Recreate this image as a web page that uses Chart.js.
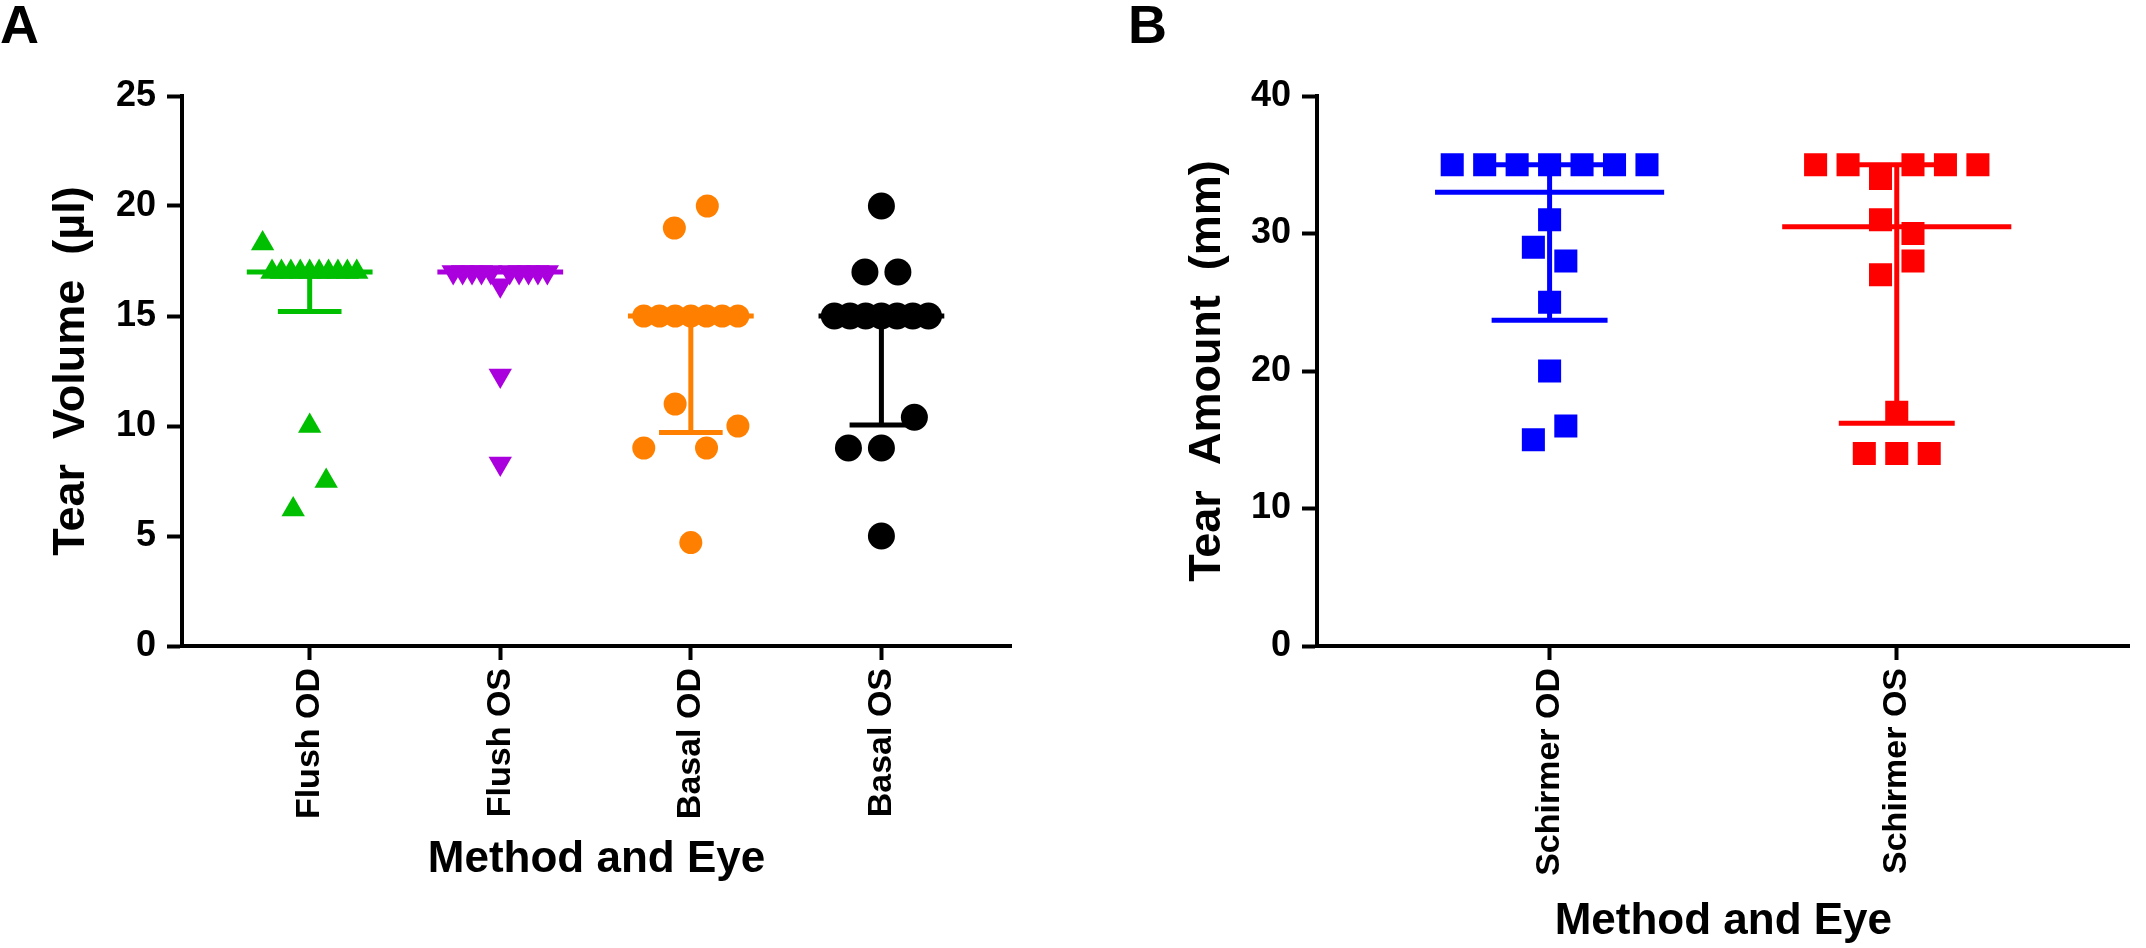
<!DOCTYPE html>
<html>
<head>
<meta charset="utf-8">
<script src="https://cdn.jsdelivr.net/npm/chart.js@4"></script>
<style>
  body { margin: 0; background: #fff; }
  canvas { position: absolute; top: 0; }
  #chartA { left: 0; }
  #chartB { left: 1128px; }
</style>
</head>
<body>
<canvas id="chartA" width="1073" height="948"></canvas>
<canvas id="chartB" width="1018" height="948"></canvas>
<script>
// ---- panel A: tear volume (µl)
var catsA = ['Flush OD', 'Flush OS', 'Basal OD', 'Basal OS'];
var flushOD = [18.3, 17, 17, 17, 17, 17, 17, 17, 17, 17, 17, 10, 6.2, 7.5];
var flushOS = [17, 17, 17, 17, 17, 16.4, 17, 17, 17, 17, 17, 12.3, 8.3];
var basalOD = [19, 20, 15, 15, 15, 15, 15, 15, 15, 9, 11, 9, 10, 4.7];
var basalOS = [20, 17, 17, 15, 15, 15, 15, 15, 15, 15, 9, 9, 10.4, 5];
var centreA = [17, 17, 15, 15];
var lowerA = [15.2, 17, 9.7, 10.05];
var upperA = [17, 17, 15, 15];
var ticksA = [0, 5, 10, 15, 20, 25];

// ---- panel B: tear amount (mm)
var catsB = ['Schirmer OD', 'Schirmer OS'];
var schirmerOD = [35, 35, 35, 35, 35, 35, 35, 31, 29, 28, 25, 20, 15, 16];
var schirmerOS = [35, 35, 34, 35, 35, 35, 31, 30, 27, 28, 17, 14, 14, 14];
var centreB = [33, 30.5];
var lowerB = [23.7, 16.2];
var upperB = [35, 35];
var ticksB = [0, 10, 20, 30, 40];

var FONT = "'Liberation Sans', Arial, sans-serif";
Chart.defaults.color = '#000';
Chart.defaults.font.family = FONT;

// spread close values side by side (column scatter), centred on the category
function spread(values, cat, jit) {
  var idx = values.map(function (v, i) { return i; });
  idx.sort(function (a, b) { return values[b] - values[a] || a - b; });
  var groups = [], cur = [idx[0]];
  for (var k = 1; k < idx.length; k++) {
    if (values[cur[cur.length - 1]] - values[idx[k]] < 1.5) cur.push(idx[k]);
    else { groups.push(cur); cur = [idx[k]]; }
  }
  groups.push(cur);
  var xs = [];
  groups.forEach(function (g) {
    g.sort(function (a, b) { return a - b; });
    var n = g.length;
    var d = n > 1 ? Math.min(jit.step, jit.span / (n - 1)) : 0;
    g.forEach(function (i, k) { xs[i] = cat + (k - (n - 1) / 2) * d; });
  });
  return values.map(function (v, i) { return {x: xs[i], y: v}; });
}

function buildSets(groups, centres, lowers, uppers, colours, marks, jit) {
  var sets = [];
  groups.forEach(function (vals, i) {
    var x = i + 1, col = colours[i];
    var segs = [[x - 0.33, centres[i], x + 0.33, centres[i]]];
    if (lowers[i] < centres[i]) {
      segs.push([x, centres[i], x, lowers[i]]);
      segs.push([x - 0.167, lowers[i], x + 0.167, lowers[i]]);
    }
    if (uppers[i] > centres[i]) {
      segs.push([x, centres[i], x, uppers[i]]);
      segs.push([x - 0.167, uppers[i], x + 0.167, uppers[i]]);
    }
    segs.forEach(function (s) {
      sets.push({
        data: [{x: s[0], y: s[1]}, {x: s[2], y: s[3]}],
        showLine: true, borderColor: col, borderWidth: 5,
        borderCapStyle: 'butt', pointRadius: 0
      });
    });
    sets.push({
      data: spread(vals, x, jit),
      pointStyle: marks[i].style, pointRadius: marks[i].r,
      rotation: marks[i].rot || 0,
      backgroundColor: col, borderColor: col, borderWidth: 0
    });
  });
  return sets;
}

function makeOptions(o) {
  return {
    responsive: false,
    animation: false,
    devicePixelRatio: 1,
    layout: {padding: {left: 0, top: 0, right: o.padRight, bottom: 0}},
    plugins: {
      legend: {display: false},
      tooltip: {enabled: false},
      title: {
        display: true, text: o.letter, align: 'start', color: '#000',
        font: {size: 54, weight: 'bold', lineHeight: 1},
        padding: {top: 1, bottom: 41}
      }
    },
    scales: {
      x: {
        type: 'linear', min: 0.33, max: o.xMax,
        afterBuildTicks: function (s) { s.ticks = o.cats.map(function (c, i) { return {value: i + 1}; }); },
        afterFit: function (s) { s.height = 302; },
        ticks: {
          autoSkip: false, minRotation: 90, maxRotation: 90, padding: 8, color: '#000',
          font: {size: 34, weight: 'bold'},
          callback: function (v) { return o.cats[Math.round(v) - 1]; }
        },
        grid: {drawOnChartArea: false, drawTicks: true, tickLength: 14, tickWidth: 4, tickColor: '#000', color: '#000'},
        border: {display: true, color: '#000', width: 4},
        title: {
          display: true, text: 'Method and Eye', color: '#000',
          font: {size: 44, weight: 'bold', lineHeight: 1},
          padding: {top: 0, bottom: o.xTitlePad}
        }
      },
      y: {
        type: 'linear', min: 0, max: o.yTicks[o.yTicks.length - 1],
        afterBuildTicks: function (s) { s.ticks = o.yTicks.map(function (v) { return {value: v}; }); },
        afterFit: function (s) { s.width = o.yWidth; },
        ticks: {padding: 11, color: '#000', font: {size: 36, weight: 'bold'}},
        grid: {drawOnChartArea: false, drawTicks: true, tickLength: 15, tickWidth: 4, tickColor: '#000', color: '#000'},
        border: {display: true, color: '#000', width: 4},
        title: {
          display: true, text: o.yTitle, color: '#000',
          font: {size: 45, weight: 'bold', lineHeight: 1},
          padding: {top: o.yTitlePad, bottom: 0}
        }
      }
    }
  };
}

var jitA = {step: 0.173, span: 0.494};
var jitB = {step: 0.0935, span: 0.6};

new Chart(document.getElementById('chartA').getContext('2d'), {
  type: 'scatter',
  data: {
    datasets: buildSets(
      [flushOD, flushOS, basalOD, basalOS], centreA, lowerA, upperA,
      ['#00BE00', '#AA00DD', '#FF8000', '#000000'],
      [{style: 'triangle', r: 13.5}, {style: 'triangle', r: 13.5, rot: 180},
       {style: 'circle', r: 11.5}, {style: 'circle', r: 13.5}],
      jitA)
  },
  options: makeOptions({
    letter: 'A', cats: catsA, xMax: 4.68, padRight: 62, xTitlePad: 66,
    yTicks: ticksA, yWidth: 182, yTitle: 'Tear  Volume  (µl)', yTitlePad: 49
  })
});

new Chart(document.getElementById('chartB').getContext('2d'), {
  type: 'scatter',
  data: {
    datasets: buildSets(
      [schirmerOD, schirmerOS], centreB, lowerB, upperB,
      ['#0000FF', '#FF0000'],
      [{style: 'rect', r: 16.3}, {style: 'rect', r: 16.3}],
      jitB)
  },
  options: makeOptions({
    letter: 'B', cats: catsB, xMax: 2.671, padRight: 2, xTitlePad: 4,
    yTicks: ticksB, yWidth: 189, yTitle: 'Tear  Amount  (mm)', yTitlePad: 57
  })
});
</script>
</body>
</html>
